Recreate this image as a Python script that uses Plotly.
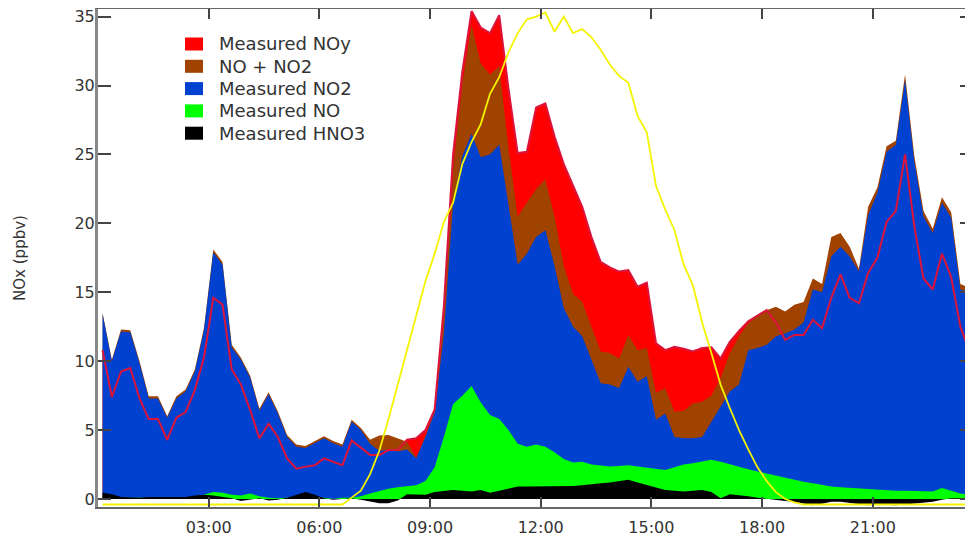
import pandas as pd
import plotly.graph_objects as go

# 15-min averages, centred on hh:07:30, hh:22:30, ...
times = pd.date_range("2000-01-01 00:07:30", periods=95, freq="15min")

# values in ppbv (index 0 = 00:07)
noy = [10.8, 7.4, 9.25, 9.5, 7.3, 5.8, 5.8, 4.3, 5.9, 6.3, 7.9, 10.3,
       14.6, 14.1, 9.4, 8.3, 6.45, 4.4, 5.45, 4.5, 2.95, 2.2, 2.35, 2.45,
       2.95, 2.7, 2.45, 4.25, 3.7, 3.2, 3.2, 3.55, 3.55, 4.3, 4.4, 5.0,
       6.5, 14.0, 25.0, 31.0, 35.4, 34.2, 33.8, 35.1, 29.8, 25.1, 25.2, 28.4,
       28.7, 26.3, 24.3, 22.8, 21.2, 19.0, 17.2, 16.8, 16.5, 16.6, 15.4, 15.7,
       11.3, 10.8, 11.05, 10.9, 10.7, 10.95, 11.0, 10.2, 11.4, 12.2, 12.9, 13.3,
       13.7, 12.8, 11.55, 11.9, 11.9, 13.0, 12.4, 14.6, 16.3, 14.6, 14.2, 16.4,
       17.5, 20.1, 20.9, 25.0, 19.8, 16.0, 15.2, 17.8, 16.1, 12.5, 10.7]

no_plus_no2 = [13.5, 10.1, 12.3, 12.25, 10.0, 7.45, 7.45, 6.0, 7.45, 7.95, 9.4, 12.45,
               18.1, 17.2, 11.2, 10.25, 8.95, 6.55, 7.75, 6.35, 4.65, 3.95, 3.85, 4.2,
               4.55, 4.2, 3.95, 5.75, 5.15, 4.3, 4.6, 4.65, 4.4, 4.15, 3.0, 4.6,
               6.4, 13.5, 24.0, 30.2, 34.4, 31.6, 30.8, 31.4, 25.5, 20.5, 21.5, 22.5,
               23.2, 20.5, 16.9, 14.9, 14.3, 12.5, 10.7, 10.6, 10.2, 11.9, 10.8, 10.95,
               7.7, 8.05, 6.35, 6.4, 6.95, 7.05, 7.5, 8.8, 10.6, 11.8, 12.75, 13.25,
               13.7, 13.95, 13.6, 14.1, 14.3, 16.0, 15.6, 19.0, 19.3, 18.3, 16.7, 21.2,
               22.6, 25.6, 26.0, 30.8, 24.9, 20.9, 19.6, 21.9, 20.8, 15.6, 15.3]

no2 = [13.4, 10.0, 12.15, 12.1, 9.85, 7.3, 7.3, 5.9, 7.3, 7.8, 9.25, 12.3,
       17.9, 17.0, 11.0, 10.1, 8.8, 6.4, 7.6, 6.2, 4.5, 3.8, 3.7, 4.05,
       4.4, 4.05, 3.8, 5.6, 5.0, 4.0, 3.5, 3.55, 3.45, 3.6, 2.95, 4.5,
       6.3, 12.0, 21.5, 24.9, 26.5, 24.8, 25.0, 25.7, 21.5, 17.0, 17.8, 19.0,
       19.5, 16.9, 13.85, 12.5, 11.8, 10.1, 8.4, 8.3, 8.05, 9.6, 8.5, 8.9,
       5.75, 6.2, 4.5, 4.4, 4.4, 4.5, 5.6, 6.7, 7.8, 8.3, 10.8, 10.95,
       11.2, 11.8, 12.0, 12.3, 12.8, 15.2, 15.0, 17.6, 18.3, 17.6, 16.5, 20.6,
       22.2, 25.2, 25.7, 30.4, 24.5, 20.5, 19.3, 21.5, 20.4, 15.2, 15.0]

no = [0.15, 0.1, 0.1, 0.1, 0.1, 0.05, 0.05, 0.1, 0.1, 0.1, 0.2, 0.3,
      0.5, 0.45, 0.3, 0.25, 0.4, 0.2, 0.1, 0.05, 0.1, 0.1, 0.1, 0.05,
      0.1, 0.0, 0.1, 0.1, 0.2, 0.4, 0.6, 0.75, 0.85, 0.9, 1.0, 1.3,
      2.3, 4.5, 6.9, 7.5, 8.2, 7.0, 6.1, 5.8, 5.0, 4.0, 3.8, 3.95,
      3.8, 3.4, 2.9, 2.65, 2.7, 2.5, 2.4, 2.35, 2.4, 2.45, 2.35, 2.25,
      2.15, 2.1, 2.3, 2.5, 2.6, 2.7, 2.85, 2.7, 2.5, 2.35, 2.15, 2.0,
      1.85, 1.65, 1.5, 1.35, 1.25, 1.15, 1.0, 0.9, 0.85, 0.8, 0.75, 0.7,
      0.65, 0.65, 0.6, 0.6, 0.6, 0.55, 0.55, 0.8, 0.6, 0.4, 0.3]

hno3 = [0.45, 0.35, 0.15, 0.1, 0.1, 0.15, 0.15, 0.1, 0.1, 0.15, 0.25, 0.3,
        0.25, 0.15, 0.05, -0.15, -0.05, 0.05, -0.1, -0.05, 0.1, 0.3, 0.5, 0.3,
        0.05, -0.05, 0.0, 0.05, -0.05, -0.15, -0.3, -0.3, -0.1, 0.35, 0.35, 0.3,
        0.5, 0.6, 0.65, 0.6, 0.55, 0.65, 0.45, 0.6, 0.75, 0.9, 0.9, 0.9,
        0.9, 0.9, 0.9, 0.95, 1.0, 1.1, 1.15, 1.2, 1.3, 1.4, 1.2, 1.0,
        0.8, 0.65, 0.6, 0.55, 0.6, 0.65, 0.5, 0.05, 0.35, 0.3, 0.2, 0.1,
        0.0, -0.05, -0.15, -0.2, -0.3, -0.45, -0.35, -0.2, -0.2, -0.3, -0.4, -0.45,
        -0.4, -0.45, -0.45, -0.4, -0.35, -0.25, -0.2, -0.05, 0.05, 0.05, 0.05]

# scaled solar radiation (yellow line)
solar = [-0.4, -0.4, -0.4, -0.4, -0.4, -0.4, -0.4, -0.4, -0.4, -0.4, -0.4, -0.4,
         -0.4, -0.4, -0.4, -0.4, -0.4, -0.4, -0.4, -0.4, -0.4, -0.4, -0.4, -0.4,
         -0.4, -0.4, -0.4, 0.1, 0.6, 1.8, 3.5, 5.8, 8.3, 11.0, 13.5, 15.8,
         17.8, 20.1, 21.5, 24.3, 25.9, 27.2, 29.4, 30.6, 32.4, 33.8, 34.8, 35.0,
         35.3, 33.9, 35.0, 33.8, 34.1, 33.5, 32.6, 31.5, 30.7, 30.2, 27.8, 26.6,
         22.7, 21.0, 19.5, 17.0, 15.5, 12.8, 10.6, 8.3, 6.6, 5.0, 3.6, 2.3,
         1.3, 0.5, 0.0, -0.25, -0.4, -0.4, -0.4, -0.4, -0.4, -0.4, -0.4, -0.4,
         -0.4, -0.4, -0.4, -0.4, -0.4, -0.4, -0.4, -0.4, -0.4, -0.4, -0.4]

tick_times = ["03:00", "06:00", "09:00", "12:00", "15:00", "18:00", "21:00"]

areas = [
    ("Measured NOy", noy, "#ff0000"),
    ("NO + NO2", no_plus_no2, "#a04200"),
    ("Measured NO2", no2, "#0041cf"),
    ("Measured NO", no, "#00ff00"),
    ("Measured HNO3", hno3, "#000000"),
]

# figure geometry (page body adds an 8px margin around the figure)
W, H = 965, 530
ML, MR, MT, MB = 90, 0, 1, 31
PW, PH = W - ML - MR, H - MT - MB


def px(x):
    return (x - ML) / PW


def py(y):
    return 1 - (y - MT) / PH


fig = go.Figure()

# overlapping fills, each down to zero, drawn back to front
for name, vals, col in areas:
    fig.add_trace(go.Scatter(x=times, y=vals, mode="lines", line=dict(width=0),
                             fill="tozeroy", fillcolor=col, name=name,
                             showlegend=False, hoverinfo="skip"))

# NOy also as a line so it shows where it sits inside the NO2 area
fig.add_trace(go.Scatter(x=times, y=noy, mode="lines", line=dict(color="#dc143c", width=2),
                         showlegend=False))
fig.add_trace(go.Scatter(x=times, y=solar, mode="lines", line=dict(color="#f4f400", width=1.8),
                         showlegend=False))

# hand-placed legend (tighter rows than plotly's own legend allows)
for k, (name, vals, col) in enumerate(areas):
    yc = 36 + 22.3 * k
    fig.add_shape(type="rect", xref="paper", yref="paper", layer="above",
                  x0=px(177), x1=px(195), y0=py(yc + 6.5), y1=py(yc - 6.5),
                  fillcolor=col, line=dict(width=0))
    fig.add_annotation(text=name, xref="paper", yref="paper", x=px(209), y=py(yc),
                       xanchor="left", yanchor="middle", showarrow=False,
                       font=dict(size=18, color="#333333"))

tick_vals = ["2000-01-01 " + t for t in tick_times]

fig.update_layout(
    width=W, height=H,
    margin=dict(l=ML, r=MR, t=MT, b=MB),
    plot_bgcolor="white", paper_bgcolor="white",
    font=dict(family="DejaVu Sans", size=16, color="#333333"),
    showlegend=False,
)
fig.update_xaxes(
    type="date", range=["2000-01-01 00:00", "2000-01-01 23:43"],
    tickvals=tick_vals, ticktext=tick_times,
    ticks="inside", ticklen=10, tickwidth=2, tickcolor="#444444",
    showline=True, linecolor="#666666", linewidth=2, mirror="ticks",
    showgrid=False, zeroline=False, automargin=False,
    ticklabelstandoff=5, ticklabeloverflow="allow",
)
fig.update_yaxes(
    range=[-0.58, 35.55], tickvals=[0, 5, 10, 15, 20, 25, 30, 35],
    ticks="inside", ticklen=13, tickwidth=2, tickcolor="#444444",
    showline=True, linecolor="#888888", linewidth=3, mirror="ticks",
    showgrid=False, zeroline=False, automargin=False,
    ticklabeloverflow="allow", ticklabelstandoff=-3,
    title=dict(text="NOx (ppbv)", font=dict(size=15), standoff=46),
)

fig.write_html("out.html")
